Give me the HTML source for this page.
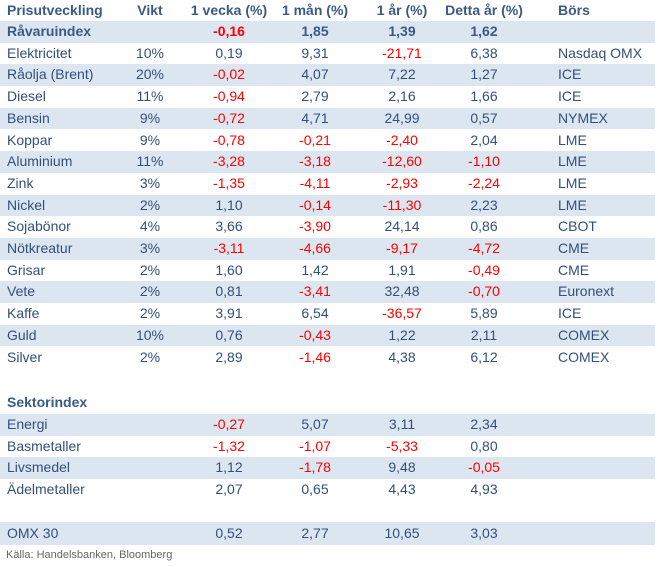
<!DOCTYPE html>
<html><head><meta charset="utf-8"><style>
body{margin:0;width:658px;height:567px;background:#fff;position:relative;font-family:"Liberation Sans",Calibri,sans-serif;font-size:14px;color:#33507a;overflow:hidden}
.r{position:absolute;left:0;width:655px;height:21.7px;line-height:21.7px}
.s{background:#dce6f1}
.r span{position:absolute;top:0;white-space:nowrap}
.l{left:7px}
.v{left:150px;transform:translateX(-50%)}
.w{left:229px;transform:translateX(-50%)}
.m{left:315px;transform:translateX(-50%)}
.y{left:402px;transform:translateX(-50%)}
.d{left:484px;transform:translateX(-50%)}
.b{left:558px}
.n{color:#f00}
.h{font-weight:bold;color:#3a5a85}
.src{position:absolute;left:6px;top:549px;font-size:11px;color:#666}
</style></head><body>
<div class="r h" style="top:0"><span class="l">Prisutveckling</span><span class="v">Vikt</span><span class="w">1 vecka (%)</span><span class="m">1 mån (%)</span><span class="y">1 år (%)</span><span class="d">Detta år (%)</span><span class="b">Börs</span></div>
<div class="r s h" style="top:21px"><span class="l">Råvaruindex</span><span class="w n">-0,16</span><span class="m">1,85</span><span class="y">1,39</span><span class="d">1,62</span></div>
<div class="r" style="top:42.7px"><span class="l">Elektricitet</span><span class="v">10%</span><span class="w">0,19</span><span class="m">9,31</span><span class="y n">-21,71</span><span class="d">6,38</span><span class="b">Nasdaq OMX</span></div>
<div class="r s" style="top:64.4px"><span class="l">Råolja (Brent)</span><span class="v">20%</span><span class="w n">-0,02</span><span class="m">4,07</span><span class="y">7,22</span><span class="d">1,27</span><span class="b">ICE</span></div>
<div class="r" style="top:86.1px"><span class="l">Diesel</span><span class="v">11%</span><span class="w n">-0,94</span><span class="m">2,79</span><span class="y">2,16</span><span class="d">1,66</span><span class="b">ICE</span></div>
<div class="r s" style="top:107.8px"><span class="l">Bensin</span><span class="v">9%</span><span class="w n">-0,72</span><span class="m">4,71</span><span class="y">24,99</span><span class="d">0,57</span><span class="b">NYMEX</span></div>
<div class="r" style="top:129.5px"><span class="l">Koppar</span><span class="v">9%</span><span class="w n">-0,78</span><span class="m n">-0,21</span><span class="y n">-2,40</span><span class="d">2,04</span><span class="b">LME</span></div>
<div class="r s" style="top:151.2px"><span class="l">Aluminium</span><span class="v">11%</span><span class="w n">-3,28</span><span class="m n">-3,18</span><span class="y n">-12,60</span><span class="d n">-1,10</span><span class="b">LME</span></div>
<div class="r" style="top:172.9px"><span class="l">Zink</span><span class="v">3%</span><span class="w n">-1,35</span><span class="m n">-4,11</span><span class="y n">-2,93</span><span class="d n">-2,24</span><span class="b">LME</span></div>
<div class="r s" style="top:194.6px"><span class="l">Nickel</span><span class="v">2%</span><span class="w">1,10</span><span class="m n">-0,14</span><span class="y n">-11,30</span><span class="d">2,23</span><span class="b">LME</span></div>
<div class="r" style="top:216.3px"><span class="l">Sojabönor</span><span class="v">4%</span><span class="w">3,66</span><span class="m n">-3,90</span><span class="y">24,14</span><span class="d">0,86</span><span class="b">CBOT</span></div>
<div class="r s" style="top:238px"><span class="l">Nötkreatur</span><span class="v">3%</span><span class="w n">-3,11</span><span class="m n">-4,66</span><span class="y n">-9,17</span><span class="d n">-4,72</span><span class="b">CME</span></div>
<div class="r" style="top:259.7px"><span class="l">Grisar</span><span class="v">2%</span><span class="w">1,60</span><span class="m">1,42</span><span class="y">1,91</span><span class="d n">-0,49</span><span class="b">CME</span></div>
<div class="r s" style="top:281.4px"><span class="l">Vete</span><span class="v">2%</span><span class="w">0,81</span><span class="m n">-3,41</span><span class="y">32,48</span><span class="d n">-0,70</span><span class="b">Euronext</span></div>
<div class="r" style="top:303.1px"><span class="l">Kaffe</span><span class="v">2%</span><span class="w">3,91</span><span class="m">6,54</span><span class="y n">-36,57</span><span class="d">5,89</span><span class="b">ICE</span></div>
<div class="r s" style="top:324.8px"><span class="l">Guld</span><span class="v">10%</span><span class="w">0,76</span><span class="m n">-0,43</span><span class="y">1,22</span><span class="d">2,11</span><span class="b">COMEX</span></div>
<div class="r" style="top:346.5px"><span class="l">Silver</span><span class="v">2%</span><span class="w">2,89</span><span class="m n">-1,46</span><span class="y">4,38</span><span class="d">6,12</span><span class="b">COMEX</span></div>
<div class="r h" style="top:392px"><span class="l">Sektorindex</span></div>
<div class="r s" style="top:414px"><span class="l">Energi</span><span class="w n">-0,27</span><span class="m">5,07</span><span class="y">3,11</span><span class="d">2,34</span></div>
<div class="r" style="top:435.7px"><span class="l">Basmetaller</span><span class="w n">-1,32</span><span class="m n">-1,07</span><span class="y n">-5,33</span><span class="d">0,80</span></div>
<div class="r s" style="top:457.4px"><span class="l">Livsmedel</span><span class="w">1,12</span><span class="m n">-1,78</span><span class="y">9,48</span><span class="d n">-0,05</span></div>
<div class="r" style="top:479.1px"><span class="l">Ädelmetaller</span><span class="w">2,07</span><span class="m">0,65</span><span class="y">4,43</span><span class="d">4,93</span></div>
<div class="r s" style="top:522px;height:23px;line-height:23px"><span class="l">OMX 30</span><span class="w">0,52</span><span class="m">2,77</span><span class="y">10,65</span><span class="d">3,03</span></div>
<div class="src">Källa: Handelsbanken, Bloomberg</div>
</body></html>
